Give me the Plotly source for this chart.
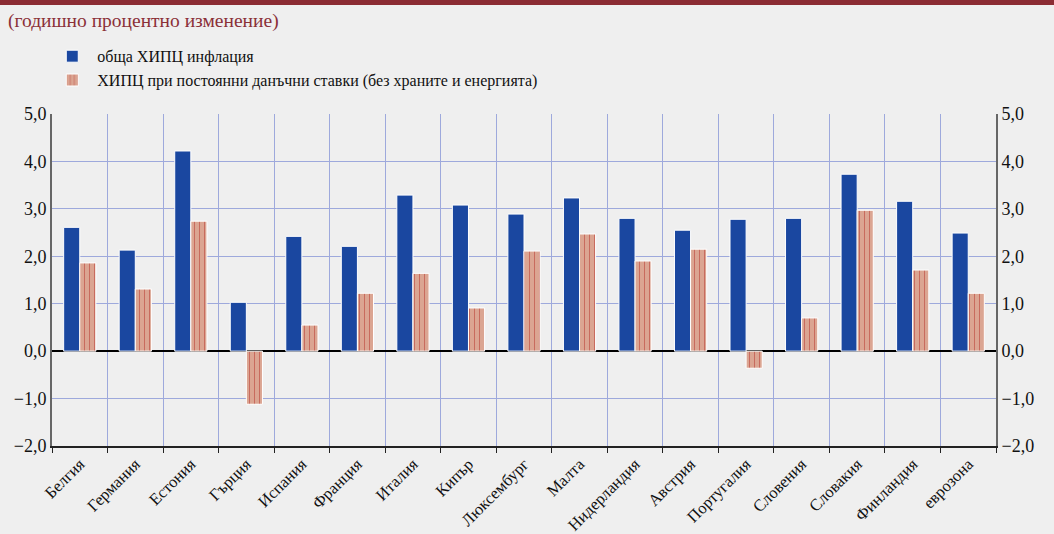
import plotly.graph_objects as go

# Annual percentage change of HICP by euro area country
countries = ["Белгия", "Германия", "Естония", "Гърция", "Испания", "Франция",
             "Италия", "Кипър", "Люксембург", "Малта", "Нидерландия", "Австрия",
             "Португалия", "Словения", "Словакия", "Финландия", "еврозона"]
hicp_total = [2.61, 2.13, 4.22, 1.03, 2.42, 2.21, 3.29, 3.08, 2.89, 3.23,
              2.80, 2.55, 2.78, 2.80, 3.73, 3.16, 2.49]
hicp_const_tax = [1.86, 1.31, 2.74, -1.12, 0.55, 1.22, 1.64, 0.91, 2.11, 2.47,
                  1.90, 2.15, -0.36, 0.70, 2.97, 1.71, 1.22]
y_ticks = [-2, -1, 0, 1, 2, 3, 4, 5]

name_total = "обща ХИПЦ инфлация"
name_const = "ХИПЦ при постоянни данъчни ставки (без храните и енергията)"

BG = "#efefef"
BLUE = "#1a47a0"
SALMON = "#dba592"
STRIPE = "#b5322a"
GRID = "#9ea9dc"
FONT = "Liberation Serif"

fig = go.Figure()
fig.add_bar(x=countries, y=hicp_total, name=name_total,
            marker=dict(color=BLUE, line=dict(color="white", width=1)))
fig.add_bar(x=countries, y=hicp_const_tax, name=name_const,
            marker=dict(color=SALMON, line=dict(color="white", width=1),
                        pattern=dict(shape="|", fgcolor=STRIPE, fillmode="overlay",
                                     size=5, solidity=0.2)))

# invisible trace to carry the right-hand axis labels
fig.add_scatter(x=countries, y=hicp_total, yaxis="y2", mode="markers",
                marker=dict(opacity=0), showlegend=False, hoverinfo="skip")

yrange = [-2, 5]
fig.update_layout(
    width=1054, height=534,
    paper_bgcolor=BG, plot_bgcolor=BG,
    margin=dict(l=52, r=58, t=114, b=88),
    separators=", ",
    font=dict(family=FONT, size=18, color="#111"),
    barmode="group", bargap=0.42, bargroupgap=0.0,
    title=dict(text="(годишно процентно изменение)", xref="container", yref="container",
               x=8 / 1054, y=1 - 20 / 534, xanchor="left", yanchor="middle",
               font=dict(family=FONT, size=19.5, color="#8b3038")),
    legend=dict(x=-0.005, y=1.225, xanchor="left", yanchor="top",
                bgcolor="rgba(0,0,0,0)", font=dict(family=FONT, size=16),
                tracegroupgap=0, itemwidth=40),
    xaxis=dict(type="category", range=[-0.5, len(countries) - 0.5], automargin=False,
               tickson="boundaries", ticks="outside", ticklen=5,
               tickcolor="#222", showgrid=True, gridcolor=GRID, gridwidth=1,
               showline=True, linecolor="#222", linewidth=2,
               tickangle=-45, tickfont=dict(family=FONT, size=16.5)),
    yaxis=dict(range=yrange, tickvals=y_ticks, tickformat=".1f", automargin=False,
               showgrid=True, gridcolor=GRID, gridwidth=1,
               zeroline=True, zerolinecolor="#000", zerolinewidth=2,
               showline=True, linecolor="#666", linewidth=2, ticks=""),
    yaxis2=dict(range=yrange, tickvals=y_ticks, tickformat=".1f", automargin=False,
                overlaying="y", side="right", showgrid=False, zeroline=False,
                showline=True, linecolor="#666", linewidth=2, ticks=""),
    shapes=[dict(type="rect", xref="paper", yref="paper",
                 x0=-52 / 944, x1=1002 / 944, y0=(446 - 5) / 332, y1=(446 + 2) / 332,
                 fillcolor="#8b2c33", line=dict(width=0), layer="above")],
)

fig.write_html("out.html")
